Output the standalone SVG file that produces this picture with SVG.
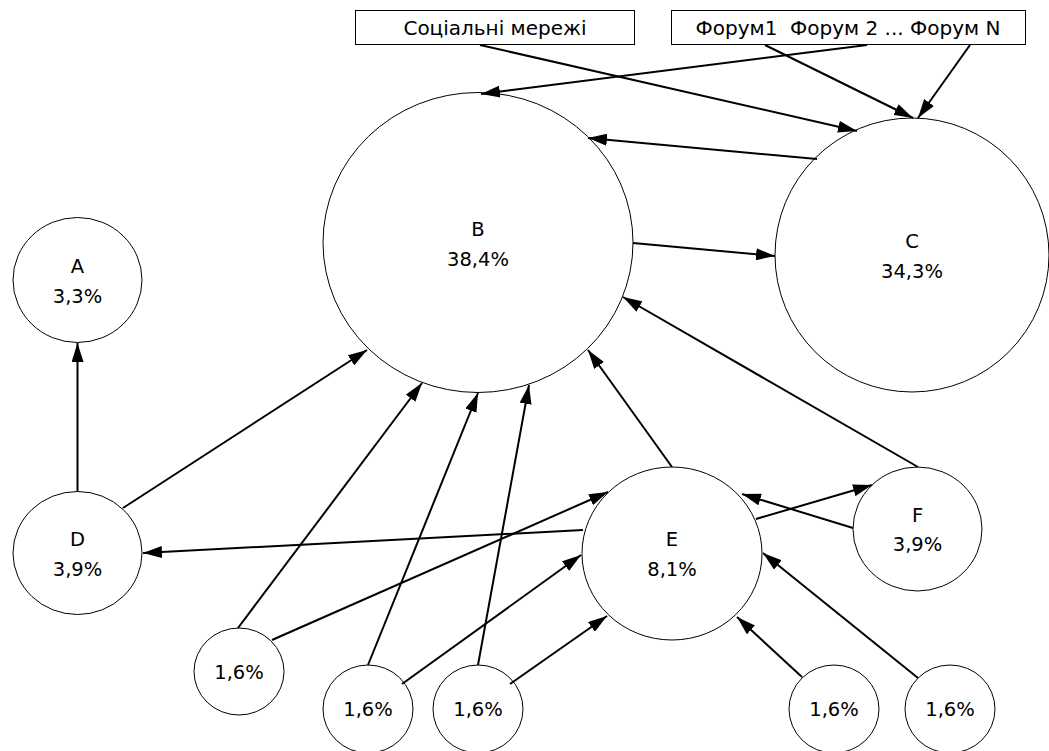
<svg xmlns="http://www.w3.org/2000/svg" width="1049" height="751" viewBox="0 0 1049 751">
<style>
.n{fill:#fff;stroke:#000;stroke-width:1}
.t{font-family:"DejaVu Sans",sans-serif;font-size:19.5px;fill:#000;text-anchor:middle}
.bt{font-family:"DejaVu Sans",sans-serif;font-size:20px;fill:#000;text-anchor:middle}
.c line{stroke:#000;stroke-width:2;marker-end:url(#ah)}
</style>
<defs>
<marker id="ah" markerUnits="userSpaceOnUse" markerWidth="19" markerHeight="12" refX="19" refY="6" orient="auto">
<path d="M0,0 L19,6 L0,12 z" fill="#000"/>
</marker>
</defs>
<rect width="1049" height="751" fill="#fff"/>
<g id="social"><rect class="n" x="355.5" y="10.5" width="279" height="34"/><text class="bt" x="495" y="35">Соціальні мережі</text></g>
<g id="forums"><rect class="n" x="671.5" y="10.5" width="354" height="34"/><text class="bt" x="848" y="35" xml:space="preserve">Форум1  Форум 2 ... Форум N</text></g>
<g id="B"><ellipse class="n" cx="478" cy="242.5" rx="155" ry="150"/><text class="t" x="478" y="236">B</text><text class="t" x="478" y="266">38,4%</text></g>
<g id="C"><ellipse class="n" cx="912" cy="255" rx="137" ry="137"/><text class="t" x="912" y="248">C</text><text class="t" x="912" y="278">34,3%</text></g>
<g id="A"><ellipse class="n" cx="77.5" cy="280" rx="64.5" ry="62.5"/><text class="t" x="77.5" y="273">A</text><text class="t" x="77.5" y="303">3,3%</text></g>
<g id="D"><ellipse class="n" cx="77.5" cy="553" rx="64.5" ry="61.5"/><text class="t" x="77.5" y="546">D</text><text class="t" x="77.5" y="576">3,9%</text></g>
<g id="E"><ellipse class="n" cx="672" cy="553.5" rx="90" ry="86.5"/><text class="t" x="672" y="546">E</text><text class="t" x="672" y="576">8,1%</text></g>
<g id="F"><ellipse class="n" cx="917.5" cy="529" rx="64.5" ry="62"/><text class="t" x="917.5" y="522">F</text><text class="t" x="917.5" y="551">3,9%</text></g>
<g id="s1"><ellipse class="n" cx="239" cy="671.5" rx="45" ry="43.5"/><text class="t" x="239" y="678.5">1,6%</text></g>
<g id="s2"><ellipse class="n" cx="368" cy="709" rx="45" ry="44"/><text class="t" x="368" y="716">1,6%</text></g>
<g id="s3"><ellipse class="n" cx="478" cy="709" rx="45" ry="44"/><text class="t" x="478" y="716">1,6%</text></g>
<g id="s4"><ellipse class="n" cx="834" cy="709" rx="45" ry="44"/><text class="t" x="834" y="716">1,6%</text></g>
<g id="s5"><ellipse class="n" cx="950" cy="709" rx="45" ry="44"/><text class="t" x="950" y="716">1,6%</text></g>
<g id="connectors" class="c">
<line x1="480" y1="45" x2="857" y2="131"/>
<line x1="867" y1="45" x2="481" y2="94"/>
<line x1="765" y1="45" x2="913" y2="118"/>
<line x1="970" y1="45" x2="918" y2="118"/>
<line x1="817" y1="159" x2="588" y2="138"/>
<line x1="633" y1="243" x2="775" y2="256"/>
<line x1="918" y1="467" x2="623" y2="297"/>
<line x1="672" y1="467" x2="588" y2="350"/>
<line x1="478" y1="665" x2="529" y2="385"/>
<line x1="368" y1="665" x2="478" y2="393"/>
<line x1="238" y1="628" x2="422" y2="383"/>
<line x1="123" y1="508" x2="367" y2="350"/>
<line x1="77.5" y1="491.5" x2="77.5" y2="343"/>
<line x1="583" y1="530" x2="143" y2="553"/>
<line x1="272" y1="640" x2="608" y2="492"/>
<line x1="402" y1="684" x2="581" y2="555"/>
<line x1="510" y1="684" x2="607" y2="616"/>
<line x1="756" y1="519" x2="872" y2="485"/>
<line x1="853" y1="528" x2="742" y2="494"/>
<line x1="802" y1="677" x2="737" y2="617"/>
<line x1="918" y1="678" x2="763" y2="553"/>
</g>
</svg>
